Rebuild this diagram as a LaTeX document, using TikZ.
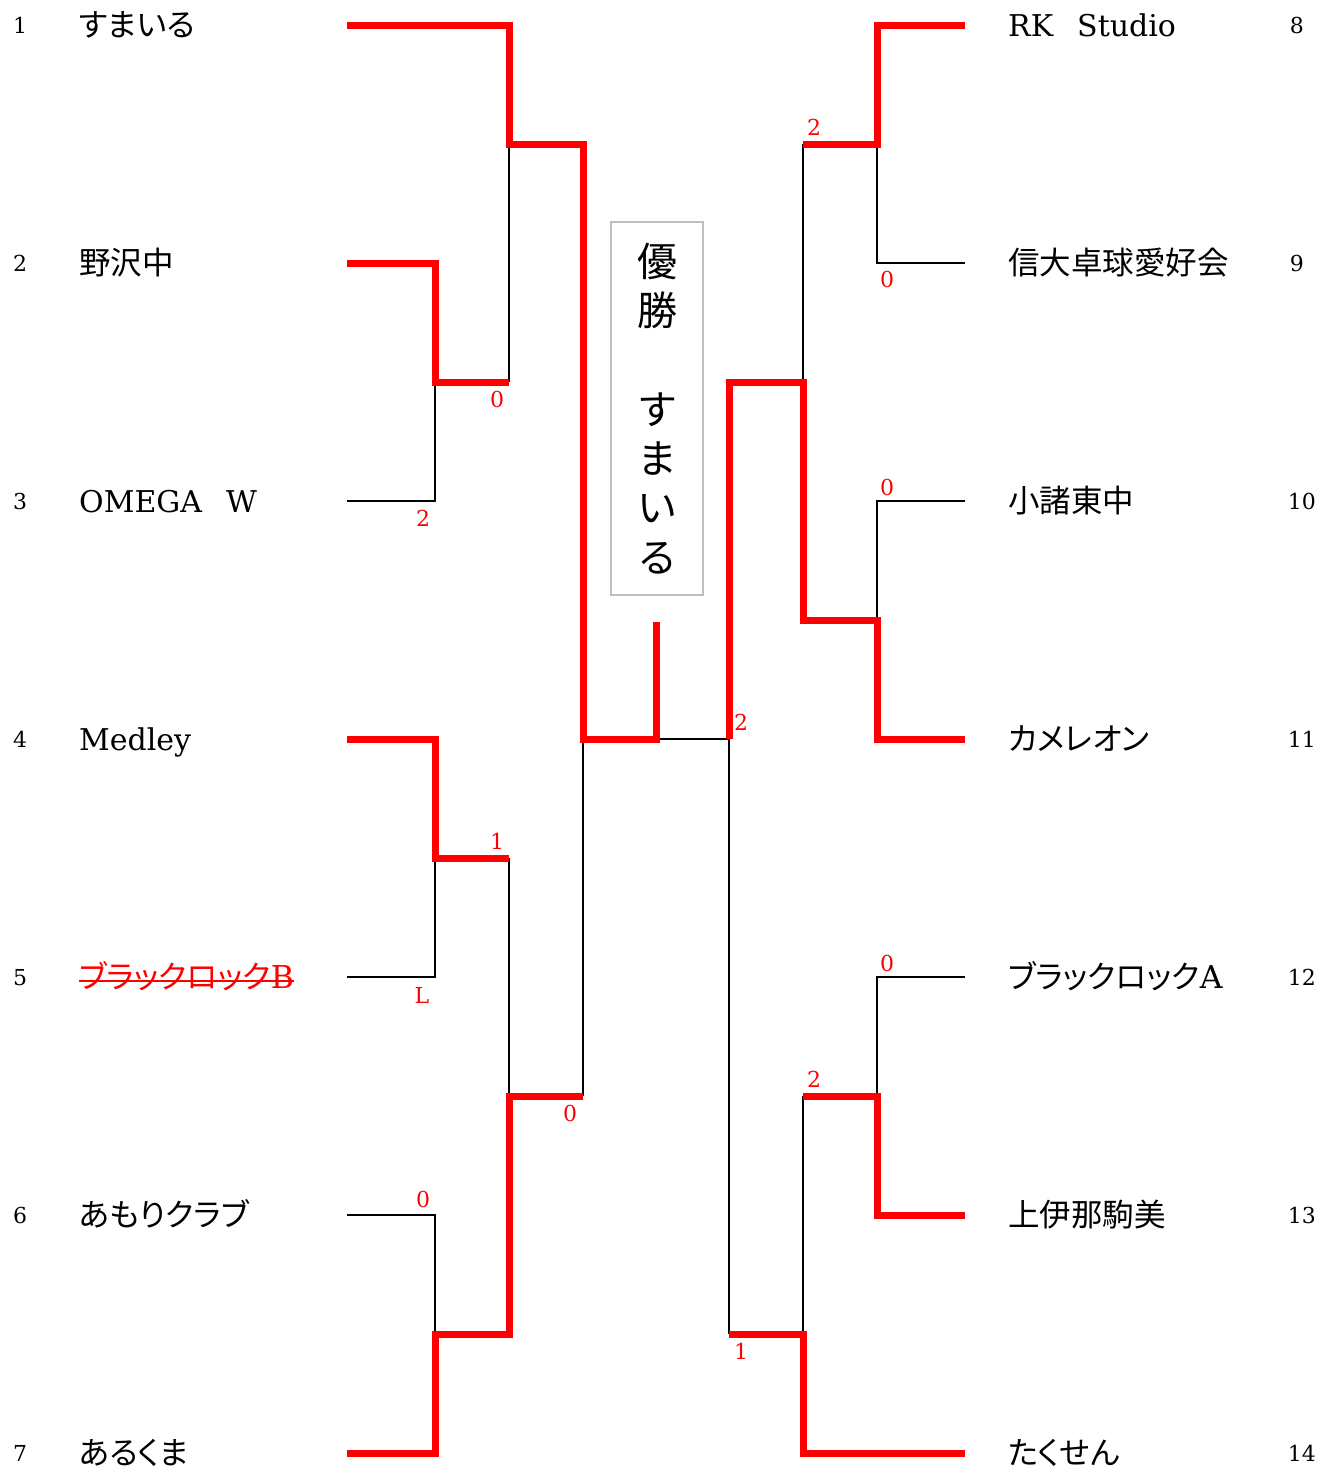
\documentclass[tikz,border=0pt]{standalone}
\usepackage{fontspec}
\setmainfont{DejaVu Serif}
\newfontfamily\jp[RawFeature=+palt]{Noto Sans CJK JP}
\newfontfamily\jpbox{Noto Sans CJK JP}
\begin{document}
\begin{tikzpicture}[x=1pt,y=-1pt,
  win/.style={draw=red, line width=7pt, line join=miter},
  lose/.style={draw=black, line width=2.6pt},
  tname/.style={anchor=base west, inner sep=0pt, font=\fontsize{30}{35}\selectfont},
  jname/.style={anchor=base west, inner sep=0pt, font=\jp\fontsize{31.5}{36}\selectfont},
  lnum/.style={anchor=base, inner sep=0pt, font=\fontsize{22}{26}\selectfont},
  rnum/.style={anchor=base east, inner sep=0pt, font=\fontsize{22}{26}\selectfont},
  score/.style={inner sep=0pt, text=red, font=\fontsize{22}{26}\selectfont},
  champ/.style={draw=black!25, line width=1.5pt, minimum width=92pt, minimum height=373pt, inner sep=0pt, align=center, font=\jpbox\fontsize{40}{49.3}\selectfont}
]
\useasboundingbox (0,0) rectangle (1335,1483);

% team start points
\coordinate (s1) at (347,25);
\coordinate (s2) at (347,263);
\coordinate (s3) at (347,501);
\coordinate (s4) at (347,739);
\coordinate (s5) at (347,977);
\coordinate (s6) at (347,1215);
\coordinate (s7) at (347,1453);
\coordinate (s8) at (965,25);
\coordinate (s9) at (965,263);
\coordinate (s10) at (965,501);
\coordinate (s11) at (965,739);
\coordinate (s12) at (965,977);
\coordinate (s13) at (965,1215);
\coordinate (s14) at (965,1453);
% junctions
\coordinate (m23) at (435,382);
\coordinate (m45) at (435,858);
\coordinate (m67) at (435,1334);
\coordinate (q1) at (509,144);
\coordinate (q2) at (509,1096);
\coordinate (sf) at (583,739);
\coordinate (ch) at (656,739);
\coordinate (top) at (656,622);
\coordinate (m89) at (877,144);
\coordinate (m1011) at (877,620);
\coordinate (m1213) at (877,1096);
\coordinate (q3) at (803,382);
\coordinate (q4) at (803,1334);
\coordinate (sf2) at (729,739);

% losing lines
\draw[lose] (s3) -| (m23);
\draw[lose] (q1 |- m23) -- (q1);
\draw[lose] (s5) -| (m45);
\draw[lose] (q2 |- m45) -- (q2);
\draw[lose] (s6) -| (m67);
\draw[lose] (sf |- q2) -- (sf);
\draw[lose] (ch) -- (sf2);
\draw[lose] (s9) -| (m89);
\draw[lose] (q3 |- m89) -- (q3);
\draw[lose] (s10) -| (m1011);
\draw[lose] (s12) -| (m1213);
\draw[lose] (q4 |- m1213) -- (q4);
\draw[lose] (sf2 |- q4) -- (sf2);

% winning lines
\draw[win] (s1) -| (q1) -- (sf |- q1) -- (sf) -- (ch) -- (top);
\draw[win] (s2) -| (m23) -- (q1 |- m23);
\draw[win] (s4) -| (m45) -- (q2 |- m45);
\draw[win] (s7) -| (m67) -- (q2 |- m67) -- (q2) -- (sf |- q2);
\draw[win] (s8) -| (m89) -- (q3 |- m89);
\draw[win] (s11) -| (m1011) -- (q3 |- m1011) -- (q3) -- (sf2 |- q3) -- (sf2);
\draw[win] (s13) -| (m1213) -- (q4 |- m1213);
\draw[win] (s14) -| (q4) -- (sf2 |- q4);

% numbers
\node[lnum] (k1) at (20,33) {1};
\node[lnum] (k2) at (20,271) {2};
\node[lnum] (k3) at (20,509) {3};
\node[lnum] (k4) at (20,747) {4};
\node[lnum] (k5) at (20,985) {5};
\node[lnum] (k6) at (20,1223) {6};
\node[lnum] (k7) at (20,1461) {7};
\node[rnum] (k8) at (1304,33) {8};
\node[rnum] (k9) at (1304,271) {9};
\node[rnum] (k10) at (1316,509) {10};
\node[rnum] (k11) at (1316,747) {11};
\node[rnum] (k12) at (1316,985) {12};
\node[rnum] (k13) at (1316,1223) {13};
\node[rnum] (k14) at (1316,1461) {14};

% names
\node[jname] (n1) at (79,36) {すまいる};
\node[jname] (n2) at (79,274) {野沢中};
\node[tname] (n3) at (79,512) {OMEGA\hspace{24pt}W};
\node[tname] (n4) at (79,750) {Medley};
\node[jname, text=red] (n5) at (79,988) {ブラックロック{\rmfamily B}};
\draw[red, line width=1.6pt] ([yshift=7pt]n5.base west) -- ([yshift=7pt]n5.base east);
\node[jname] (n6) at (79,1226) {あもりクラブ};
\node[jname] (n7) at (79,1464) {あるくま};
\node[tname] (n8) at (1008,36) {RK\hspace{24pt}Studio};
\node[jname] (n9) at (1008,274) {信大卓球愛好会};
\node[jname] (n10) at (1008,512) {小諸東中};
\node[jname] (n11) at (1008,750) {カメレオン};
\node[jname] (n12) at (1008,988) {ブラックロック{\rmfamily A}};
\node[jname] (n13) at (1008,1226) {上伊那駒美};
\node[jname] (n14) at (1008,1464) {たくせん};

% scores
\node[score] (c1) at (497,399) {0};
\node[score] (c2) at (423,518) {2};
\node[score] (c3) at (497,841) {1};
\node[score] (c4) at (422,995) {L};
\node[score] (c5) at (423,1199) {0};
\node[score] (c6) at (570,1113) {0};
\node[score] (c7) at (814,127) {2};
\node[score] (c8) at (887,279) {0};
\node[score] (c9) at (887,487) {0};
\node[score] (c10) at (741,722) {2};
\node[score] (c11) at (887,963) {0};
\node[score] (c12) at (814,1079) {2};
\node[score] (c13) at (741,1351) {1};

% champion box
\node[champ] (win) at (657,408.5) {優\\勝\\\mbox{}\\す\\ま\\い\\る};
\end{tikzpicture}
\end{document}
